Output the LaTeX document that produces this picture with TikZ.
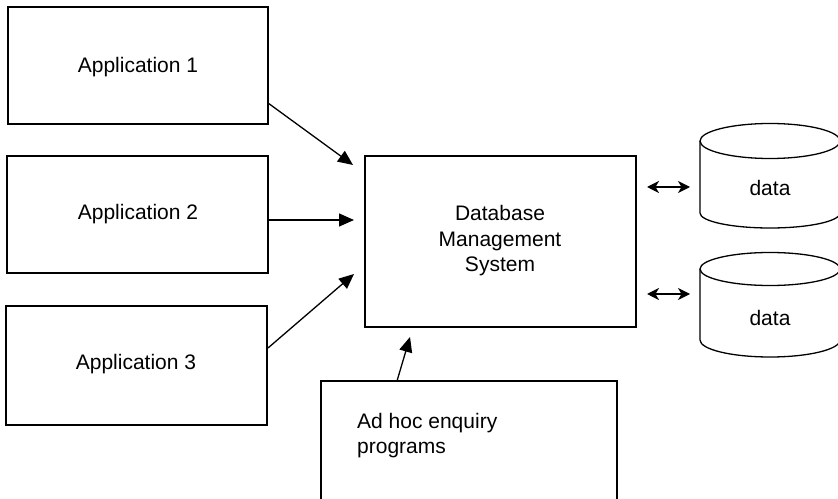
\documentclass[tikz,border=0pt]{standalone}
\usepackage{fontspec}
\setmainfont{Liberation Sans}
\usetikzlibrary{arrows.meta}
\tikzset{
  box/.style={draw, line width=1.3pt, inner sep=0pt},
  lbl/.style={font=\fontsize{21}{25.5}\selectfont, align=center, inner sep=0pt},
  feed/.style={line width=1.3pt, -{Triangle[length=15pt,width=13pt]}},
  link/.style={line width=1.3pt, {Stealth[length=12pt,width=12pt,inset=3.5pt]}-{Stealth[length=12pt,width=12pt,inset=3.5pt]}},
  drum/.style={line width=1.3pt},
}
\begin{document}
\begin{tikzpicture}[x=1pt,y=1pt]
\useasboundingbox (0,0) rectangle (838,498);
\clip (0,0) rectangle (838,498);

% application programs
\draw[box] (8,374) rectangle (268,491);
\node[lbl] (app1) at (138,431) {Application 1};
\draw[box] (7,225) rectangle (268,342);
\node[lbl] (app2) at (138,284) {Application 2};
\draw[box] (6,73) rectangle (267,192);
\node[lbl] (app3) at (136,134) {Application 3};

% database management system
\draw[box] (365,171) rectangle (636,342);
\node[lbl] (dbms) at (500,257) {Database\\Management\\System};

% ad hoc enquiry box, running off the lower edge
\draw[box] (321,-20) rectangle (617,117);
\node[lbl, anchor=north west, align=left] (adhoc) at (357,85) {Ad hoc enquiry\\programs};

% data stores
\draw[drum] (700,357) -- (700,285) arc[start angle=180,end angle=360,x radius=70,y radius=15] -- (840,357);
\draw[drum] (770,357) ellipse[x radius=70,y radius=17.5];
\node[lbl] (data1) at (770,310) {data};
\draw[drum] (700,229) -- (700,158) arc[start angle=180,end angle=360,x radius=70,y radius=17] -- (840,229);
\draw[drum] (770,229) ellipse[x radius=70,y radius=16.5];
\node[lbl] (data2) at (770,180) {data};

% connector end points
\coordinate (a1s) at (268,395);
\coordinate (a1e) at (353,333);
\coordinate (a2s) at (268,278);
\coordinate (a2e) at (354,278);
\coordinate (a3s) at (268,150);
\coordinate (a3e) at (354,224);
\coordinate (a4s) at (397,117);
\coordinate (a4e) at (410,161);
\coordinate (d1l) at (647,311);
\coordinate (d1r) at (690,311);
\coordinate (d2l) at (647,204);
\coordinate (d2r) at (690,204);

% connectors
\draw[feed] (a1s) -- (a1e);
\draw[feed] (a2s) -- (a2e);
\draw[feed] (a3s) -- (a3e);
\draw[feed] (a4s) -- (a4e);
\draw[link] (d1l) -- (d1r);
\draw[link] (d2l) -- (d2r);
\end{tikzpicture}
\end{document}
